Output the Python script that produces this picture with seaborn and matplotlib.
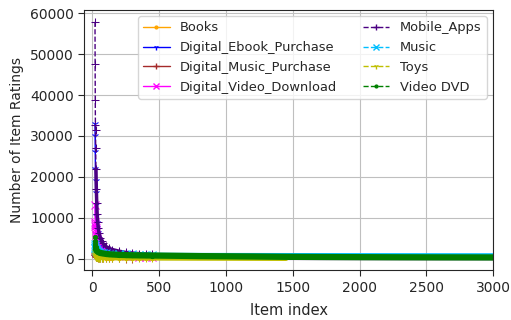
import numpy as np
import pandas as pd
import matplotlib
matplotlib.use("Agg")
import matplotlib.pyplot as plt
import seaborn as sns

# item index positions (dense near the head)
idx_head = [20, 21, 22, 23, 24, 25, 27, 30, 33, 36, 40, 45, 50, 60, 70, 80, 100, 125, 150, 200, 250, 300, 350, 400, 450]
idx_tail = [500, 600, 700, 800, 1000, 1200, 1450, 1700, 2000, 2300, 2600, 3000, 3200]

books = [1500, 1200, 1000, 900, 850, 800, 700, 600, 550, 500, 450, 400, 380, 330, 300, 280, 240, 200, 180, 150, 120, 100, 90, 80, 70]
ebook = [33000, 30000, 26000, 22000, 19000, 16000, 13000, 10500, 8800, 7400, 6200, 5100, 4300, 3400, 2900, 2500, 2000, 1700, 1500, 1250, 1100, 1000, 950, 900, 850]
ebook_tail = [800, 700, 600, 500, 400, 300, 200, 150, 100, 80, 60, 40, 30]
dmusic = [1300, 1000, 900, 800, 700, 650, 550, 450, 400, 350, 300, 250, 200, 160, 130, 110, 80, 60, 40, 20, 10, 5]
dvideo = [13000, 9000, 8500, 8000, 7500, 7000, 6500, 5800, 5200, 4700, 4200, 3600, 3200, 2600, 2200, 1900, 1500, 1200, 1000, 800, 650, 550, 480, 420, 380]
dvideo_tail = [340, 280, 230, 190, 140, 100, 60, 40, 20, 10, 5, 0, 0]
mobile = [57900, 47600, 38900, 32700, 31500, 27000, 22000, 17000, 13500, 11000, 9000, 7400, 6300, 5000, 4200, 3700, 3000, 2500, 2200, 1800, 1500, 1350, 1200, 1100, 1000]
mobile_tail = [300, 250, 200, 150, 120, 90, 60, 40, 30, 20, 10, 5, 0]
music = [3500, 3000, 2700, 2500, 2300, 2200, 2000, 1900, 1800, 1700, 1600, 1500, 1450, 1400, 1350, 1300, 1250, 1200, 1150, 1100, 1050, 1000, 980, 960, 940]
music_tail = [920, 900, 890, 880, 870, 860, 850, 840, 830, 820, 810, 800, 800]
toys = [1600, 1200, 900, 700, 600, 500, 400, 330, 300, 280, 260, 240, 220, 200, 190, 180, 160, 150, 140, 120, 110, 100, 95, 90, 85]
toys_tail = [80, 70, 60, 50, 40, 20, 0]
dvd = [5200, 4200, 3500, 3000, 2800, 2600, 2300, 2100, 1900, 1800, 1700, 1600, 1500, 1400, 1300, 1250, 1150, 1050, 1000, 900, 850, 800, 780, 760, 740]
dvd_tail = [720, 680, 640, 600, 550, 500, 420, 380, 340, 310, 290, 270, 260]

series = [
    ("Books", idx_head, books, "orange", "-", ".", 1.5),
    ("Digital_Ebook_Purchase", idx_head + idx_tail, ebook + ebook_tail, "blue", "-", "1", 2.0),
    ("Digital_Music_Purchase", idx_head[:len(dmusic)], dmusic, "brown", "-", "+", 2.0),
    ("Digital_Video_Download", idx_head + idx_tail, dvideo + dvideo_tail, "magenta", "-", "x", 1.5),
    ("Mobile_Apps", idx_head + idx_tail, mobile + mobile_tail, "indigo", "--", "+", 2.5),
    ("Music", idx_head + idx_tail, music + music_tail, "deepskyblue", "--", "x", 3.0),
    ("Toys", idx_head + idx_tail[:len(toys_tail)], toys + toys_tail, "y", "--", "1", 3.5),
    ("Video DVD", idx_head + idx_tail, dvd + dvd_tail, "green", "--", ".", 4.5),
]

sns.set_style("ticks", {"axes.grid": True, "axes.edgecolor": "0.15", "grid.color": "0.75"})
plt.rcParams['font.family'] = ['DejaVu Sans']

fig, ax = plt.subplots(figsize=(5.11, 3.2), dpi=100)
handles = []
for name, x, y, c, ls, m, lw in series:
    # band formed by the densely packed markers (past the first few items)
    sns.lineplot(x=x[6:], y=y[6:], ax=ax, color=c, linestyle="-", linewidth=lw)
    sns.lineplot(x=x, y=y, ax=ax, color=c, linestyle=ls, marker=m, markersize=6,
                 markeredgecolor=c, linewidth=1, markevery=list(range(min(len(x), 25))))
    h, = ax.plot([], [], color=c, linestyle=ls, marker=m, markersize=4,
                 markeredgecolor=c, linewidth=1, label=name)
    handles.append(h)

ax.set_xlim(-60, 3000)
ax.set_ylim(-2900, 60900)
ax.set_yticks([0, 10000, 20000, 30000, 40000, 50000, 60000])
ax.set_xlabel("Item index", fontsize=10.5, labelpad=6)
ax.set_ylabel("Number of Item Ratings", fontsize=10)
ax.tick_params(labelsize=10, direction="out", length=4)
for s in ax.spines.values():
    s.set_visible(True)
ax.legend(handles=handles, ncol=2, loc="upper right", fontsize=9.4, handlelength=2.0,
          columnspacing=2.0, labelspacing=0.52, borderpad=0.4, framealpha=0.8)

plt.subplots_adjust(left=0.165, right=0.965, top=0.97, bottom=0.155)
fig.savefig("out.png", dpi=100)
